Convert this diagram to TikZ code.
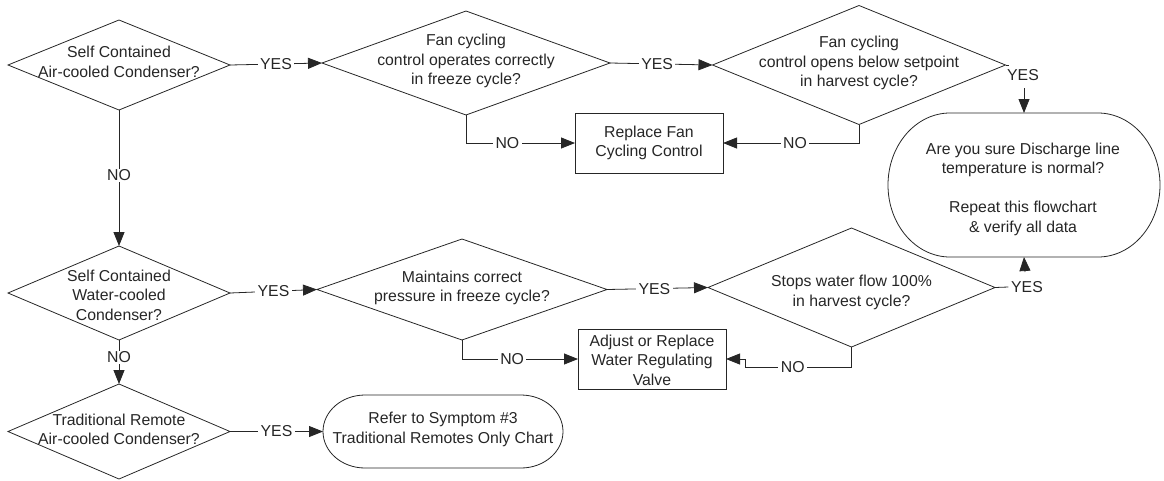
\documentclass[tikz,border=0pt]{standalone}
\usepackage{fontspec}
\setmainfont{Liberation Sans}
\usetikzlibrary{shapes.geometric,arrows.meta}
\definecolor{ink}{gray}{0.15}
\begin{document}
\begin{tikzpicture}[x=1pt,y=-1pt,
  line width=0.8pt, draw=ink,
  dia/.style={diamond, draw, inner sep=0pt, outer sep=0pt},
  txt/.style={align=center, font=\fontsize{15.8}{19.5}\selectfont, inner sep=0pt, text=ink},
  procbox/.style={draw, rectangle, inner sep=0pt, outer sep=0pt},
  termin/.style={rectangle, inner sep=0pt, outer sep=0pt},
  lbl/.style={fill=white, inner xsep=2.5pt, inner ysep=1pt, text=ink, font=\fontsize{15.8}{19.5}\selectfont},
  arr/.style={-{Triangle[length=14pt,width=11pt]}},
]
\useasboundingbox (0,0) rectangle (1164,480);

% decisions
\node[dia, minimum width=222pt, minimum height=90pt] (d1) at (119,65) {};
\node[txt] (d1t) at (119,62) {Self Contained\\Air-cooled Condenser?};
\node[dia, minimum width=288pt, minimum height=104pt] (d2) at (466,63) {};
\node[txt] (d2t) at (466,61) {Fan cycling\\control operates correctly\\in freeze cycle?};
\node[dia, minimum width=293pt, minimum height=119pt] (d3) at (859,65) {};
\node[txt] (d3t) at (859,63) {Fan cycling\\control opens below setpoint\\in harvest cycle?};

\node[dia, minimum width=222pt, minimum height=94pt] (d4) at (119,293) {};
\node[txt] (d4t) at (119,295) {Self Contained\\Water-cooled\\Condenser?};
\node[dia, minimum width=290pt, minimum height=101pt] (d5) at (462,289.5) {};
\node[txt] (d5t) at (462,288) {Maintains correct\\pressure in freeze cycle?};
\node[dia, minimum width=287pt, minimum height=119pt] (d6) at (851.5,287.5) {};
\node[txt] (d6t) at (851.5,292.5) {Stops water flow 100\%\\in harvest cycle?};

\node[dia, minimum width=222pt, minimum height=95pt] (d7) at (119,431.5) {};
\node[txt] (d7t) at (119,429.5) {Traditional Remote\\Air-cooled Condenser?};

% process boxes
\node[procbox, minimum width=148pt, minimum height=60pt] (b1) at (649,143) {};
\node[txt] (b1t) at (649,143) {Replace Fan\\Cycling Control};
\node[procbox, minimum width=148pt, minimum height=60pt] (b2) at (652,359) {};
\node[txt] (b2t) at (652,360) {Adjust or Replace\\Water Regulating\\Valve};

% terminals
\node[termin, minimum width=272pt, minimum height=144pt] (t1) at (1024,185) {};
\draw ([xshift=62pt]t1.north west) -- ([xshift=-62pt]t1.north east)
  arc[start angle=90, end angle=-90, x radius=62pt, y radius=72pt]
  -- ([xshift=62pt]t1.south west)
  arc[start angle=270, end angle=90, x radius=62pt, y radius=72pt] -- cycle;
\node[txt] (t1t) at (1023,189) {Are you sure Discharge line\\temperature is normal?\\[19.5pt]Repeat this flowchart\\\& verify all data};

\node[termin, minimum width=240pt, minimum height=73pt] (t2) at (443,431.5) {};
\draw ([xshift=42pt]t2.north west) -- ([xshift=-42pt]t2.north east)
  arc[start angle=90, end angle=-90, x radius=42pt, y radius=36.5pt]
  -- ([xshift=42pt]t2.south west)
  arc[start angle=270, end angle=90, x radius=42pt, y radius=36.5pt] -- cycle;
\node[txt] (t2t) at (443,429.5) {Refer to Symptom \#3\\Traditional Remotes Only Chart};

% connectors: top row
\draw[arr] (d1.east) -- node[lbl, pos=0.5] {YES} (d2.west);
\draw[arr] (d2.east) -- node[lbl, pos=0.46] {YES} (d3.west);
\draw[arr] (d2.south) |- node[lbl, pos=0.69] {NO} (b1.west);
\draw[arr] (d3.south) |- node[lbl, pos=0.735] {NO} (b1.east);

\coordinate (y3s) at (1009,65);
\draw (d3.east) -- (y3s);
\node[lbl, fill=none] (y3) at (1023,75.5) {YES};
\coordinate (y3a) at (1024,88);
\draw[arr] (y3a) -- (t1.north);

% left column
\draw[arr] (d1.south) -- node[lbl, pos=0.48] {NO} (d4.north);
\draw[arr] (d4.south) -- node[lbl, pos=0.39] {NO} (d7.north);

% middle row
\draw[arr] (d4.east) -- node[lbl, pos=0.5] {YES} (d5.west);
\draw[arr] (d5.east) -- node[lbl, pos=0.47] {YES} (d6.west);
\draw[arr] (d5.south) |- node[lbl, pos=0.716] {NO} (b2.west);
\coordinate (j1) at (745,367);
\draw[arr] (d6.south) |- node[lbl, pos=0.776] {NO} (j1) -- (j1 |- b2.east) -- (b2.east);

\node[lbl] (y6) at (1027,287) {YES};
\draw (d6.east) -- (y6.west);
\coordinate (y6a) at (1025,272);
\draw[arr] (y6a) -- (t1.south);

% bottom row
\draw[arr] (d7.east) -- node[lbl, pos=0.5] {YES} (t2.west);
\end{tikzpicture}
\end{document}
